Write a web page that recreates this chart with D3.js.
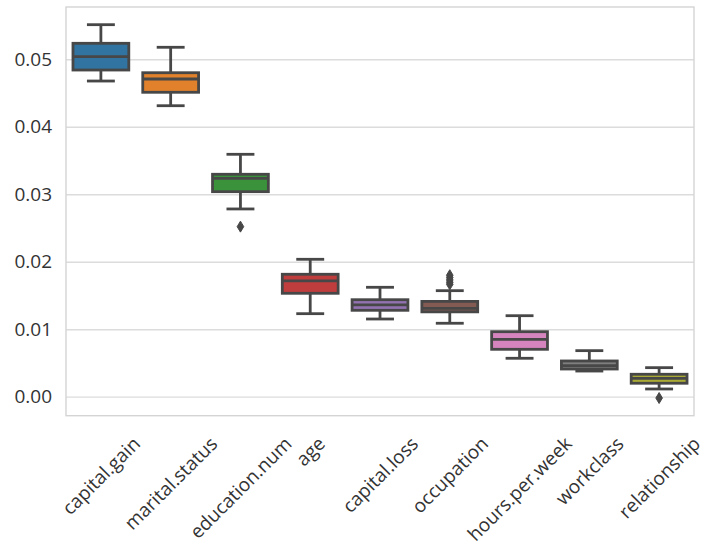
<!DOCTYPE html>
<html>
<head>
<meta charset="utf-8">
<script src="https://cdn.jsdelivr.net/npm/d3@7"></script>
<style>
  html, body { margin: 0; padding: 0; background: #fff; }
  svg { display: block; }
  text { font-family: "Open Sans", "Noto Sans", sans-serif; fill: #333; }
</style>
</head>
<body>
<svg id="chart" width="711" height="549"></svg>
<script>
const categories = ["capital.gain","marital.status","education.num","age","capital.loss","occupation","hours.per.week","workclass","relationship"];
const whiskerLow  = [0.04678, 0.04312, 0.02782, 0.01230, 0.01151, 0.01088, 0.00569, 0.00380, 0.00114];
const q1          = [0.04841, 0.04511, 0.03038, 0.01532, 0.01280, 0.01257, 0.00702, 0.00410, 0.00199];
const medians     = [0.05039, 0.04708, 0.03236, 0.01715, 0.01360, 0.01310, 0.00850, 0.00460, 0.00270];
const q3          = [0.05237, 0.04801, 0.03296, 0.01814, 0.01437, 0.01412, 0.00963, 0.00529, 0.00332];
const whiskerHigh = [0.05513, 0.05178, 0.03592, 0.02036, 0.01621, 0.01571, 0.01200, 0.00682, 0.00430];
const outliers    = [[], [], [0.02520], [], [], [0.01800, 0.01765, 0.01730, 0.01695, 0.01665], [], [], [-0.00020]];
const colors      = ["#3274a1","#e1812c","#3a923a","#c03d3e","#9372b2","#845b53","#d684bd","#7f7f7f","#a9aa35"];
const yTicks      = [0.00, 0.01, 0.02, 0.03, 0.04, 0.05];

const svg = d3.select("#chart");
const mLeft = 66, mRight = 694, mTop = 7, mBottom = 415.7;
const lineColor = "#474747";
const lw = 2.8;
const fs = 19;

const x = d3.scaleBand().domain(categories).range([mLeft, mRight]).paddingInner(0).paddingOuter(0);
const y = d3.scaleLinear().domain([-0.00282, 0.05775]).range([mBottom, mTop]);

// grid
const yAxis = d3.axisLeft(y).tickValues(yTicks).tickFormat(d3.format(".2f")).tickSize(-(mRight - mLeft)).tickPadding(14);
const gy = svg.append("g").attr("transform", `translate(${mLeft},0)`).call(yAxis);
gy.select(".domain").remove();
gy.selectAll(".tick line").attr("stroke", "#dcdcdc").attr("stroke-width", 1.4);
gy.selectAll(".tick text").attr("font-size", fs).attr("fill", "#333").attr("font-family", '"Open Sans", "Noto Sans", sans-serif');

// frame
svg.append("rect").attr("x", mLeft).attr("y", mTop).attr("width", mRight - mLeft).attr("height", mBottom - mTop)
  .attr("fill", "none").attr("stroke", "#d4d4d4").attr("stroke-width", 1.4);

// boxes
const bw = x.bandwidth() * 0.8;
const diamond = "M0,-5.5L3.3,0L0,5.5L-3.3,0Z";
categories.forEach((c, i) => {
  const cx = x(c) + x.bandwidth() / 2;
  const g = svg.append("g");
  g.append("line").attr("x1", cx).attr("x2", cx).attr("y1", y(q3[i])).attr("y2", y(whiskerHigh[i]))
    .attr("stroke", lineColor).attr("stroke-width", lw);
  g.append("line").attr("x1", cx).attr("x2", cx).attr("y1", y(q1[i])).attr("y2", y(whiskerLow[i]))
    .attr("stroke", lineColor).attr("stroke-width", lw);
  [whiskerHigh[i], whiskerLow[i]].forEach(v => {
    g.append("line").attr("x1", cx - bw / 4).attr("x2", cx + bw / 4).attr("y1", y(v)).attr("y2", y(v))
      .attr("stroke", lineColor).attr("stroke-width", lw);
  });
  g.append("rect").attr("x", cx - bw / 2).attr("width", bw)
    .attr("y", y(q3[i])).attr("height", y(q1[i]) - y(q3[i]))
    .attr("fill", colors[i]).attr("stroke", lineColor).attr("stroke-width", lw);
  g.append("line").attr("x1", cx - bw / 2).attr("x2", cx + bw / 2).attr("y1", y(medians[i])).attr("y2", y(medians[i]))
    .attr("stroke", lineColor).attr("stroke-width", lw);
  outliers[i].forEach(v => {
    g.append("path").attr("d", diamond)
      .attr("transform", `translate(${cx},${y(v)})`)
      .attr("fill", lineColor).attr("stroke", lineColor).attr("stroke-width", 1);
  });
});

// x labels rotated 45, centered under tick (matplotlib ha=center, va=top)
const labelTop = 433;
categories.forEach(c => {
  const cx = x(c) + x.bandwidth() / 2;
  const t = svg.append("text").text(c).attr("font-size", fs).attr("text-anchor", "middle")
    .attr("dominant-baseline", "central").attr("fill", "#333");
  const w = t.node().getComputedTextLength();
  const h = fs * 1.05;
  const half = (w + h) * Math.SQRT1_2 / 2;
  t.attr("transform", `translate(${cx},${labelTop + half}) rotate(-45)`);
});
</script>
</body>
</html>
